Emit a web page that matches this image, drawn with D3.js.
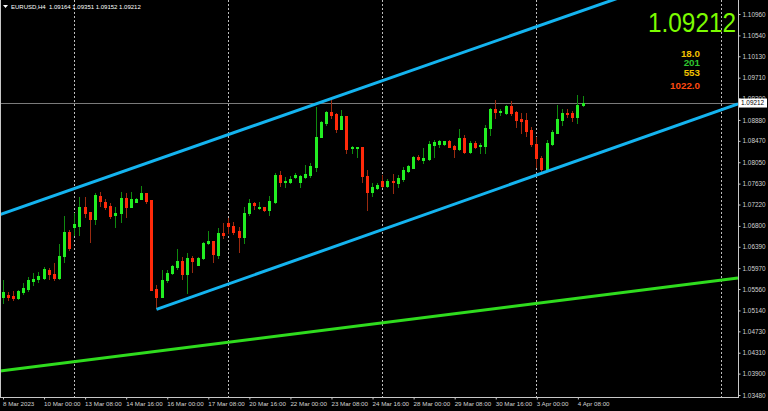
<!DOCTYPE html>
<html><head><meta charset="utf-8">
<script src="https://cdn.jsdelivr.net/npm/d3@7"></script>
<style>
html,body{margin:0;padding:0;background:#000;overflow:hidden}
svg{display:block}
text{font-family:"Liberation Sans",Arial,sans-serif}
</style></head>
<body>
<script>
// ---- data ----
const symbol = "EURUSD,H4";
const lastQuote = {open:1.09164, high:1.09351, low:1.09152, close:1.09212};
const open = [1.05404,1.05443,1.05423,1.05384,1.05502,1.05561,1.05718,1.05757,1.05777,1.05934,
1.05855,1.05777,1.06209,1.06680,1.06778,1.06798,1.07171,1.07073,1.06935,1.07387,
1.07269,1.07190,1.07014,1.07053,1.07347,1.07171,1.07269,1.07328,1.07446,1.07308,
1.05561,1.05404,1.05737,1.05875,1.05993,1.06111,1.05855,1.06170,1.06032,1.06170,
1.06464,1.06503,1.06228,1.06660,1.06857,1.06798,1.06700,1.06582,1.07053,1.07249,
1.07151,1.07171,1.07112,1.07269,1.07799,1.07662,1.07662,1.07760,1.07662,1.07760,
1.07799,1.07956,1.08545,1.08820,1.09036,1.08996,1.08702,1.08957,1.08329,1.08329,
1.08349,1.07779,1.07465,1.07544,1.07681,1.07583,1.07681,1.07642,1.07720,1.07877,
1.07936,1.08152,1.08093,1.08113,1.08388,1.08408,1.08408,1.08466,1.08368,1.08309,
1.08525,1.08250,1.08427,1.08368,1.08368,1.08722,1.09095,1.09036,1.09016,1.09154,
1.09036,1.08898,1.08879,1.08682,1.08408,1.08133,1.07917,1.08408,1.08623,1.08879,
1.09016,1.09016,1.08938,1.09164];
const high = [1.05737,1.05502,1.05521,1.05541,1.05678,1.05796,1.05875,1.05894,1.05993,1.05973,
1.06071,1.06444,1.06994,1.06719,1.07053,1.07367,1.07367,1.07073,1.07446,1.07465,
1.07328,1.07249,1.07171,1.07465,1.07446,1.07465,1.07347,1.07583,1.07446,1.07308,
1.05639,1.05934,1.05934,1.06032,1.06346,1.06189,1.06268,1.06209,1.06189,1.06484,
1.06700,1.06503,1.06759,1.06857,1.06955,1.06876,1.06778,1.07171,1.07328,1.07269,
1.07269,1.07171,1.07387,1.07838,1.07877,1.07760,1.07779,1.07838,1.07799,1.07995,
1.08035,1.09134,1.08859,1.09055,1.09271,1.09016,1.09075,1.08957,1.08368,1.08349,
1.08349,1.07897,1.07642,1.07642,1.07799,1.07720,1.07819,1.07799,1.07956,1.07995,
1.08172,1.08192,1.08329,1.08466,1.08486,1.08486,1.08466,1.08486,1.08388,1.08702,
1.08584,1.08466,1.08466,1.08427,1.08780,1.09114,1.09271,1.09095,1.09173,1.09252,
1.09055,1.09016,1.09016,1.08741,1.08545,1.08172,1.08486,1.08682,1.09173,1.09095,
1.09095,1.09055,1.09370,1.09351];
const low = [1.05286,1.05345,1.05345,1.05364,1.05463,1.05521,1.05639,1.05698,1.05757,1.05757,
1.05737,1.05757,1.06091,1.06326,1.06621,1.06621,1.06975,1.06484,1.06837,1.07190,
1.07132,1.06955,1.06778,1.06876,1.06975,1.07171,1.07269,1.07328,1.07249,1.05541,
1.05188,1.05404,1.05698,1.05855,1.05954,1.05757,1.05482,1.05894,1.06032,1.06150,
1.06444,1.06091,1.06170,1.06562,1.06660,1.06641,1.06287,1.06464,1.07014,1.07132,
1.07132,1.07092,1.07014,1.07249,1.07583,1.07563,1.07642,1.07740,1.07563,1.07740,
1.07760,1.07877,1.08545,1.08780,1.08918,1.08643,1.08702,1.08231,1.08231,1.08152,
1.07662,1.07112,1.07387,1.07524,1.07563,1.07563,1.07446,1.07563,1.07681,1.07858,
1.07936,1.08093,1.08035,1.08093,1.08152,1.08349,1.08388,1.08349,1.08152,1.08290,
1.08231,1.08231,1.08329,1.08231,1.08231,1.08584,1.08918,1.08977,1.08996,1.08977,
1.08741,1.08623,1.08565,1.08368,1.07956,1.07877,1.07897,1.08388,1.08623,1.08780,
1.08938,1.08859,1.08820,1.09152];
const close = [1.05502,1.05404,1.05384,1.05521,1.05580,1.05737,1.05757,1.05816,1.05954,1.05855,
1.05777,1.06209,1.06680,1.06366,1.06837,1.07171,1.07053,1.06935,1.07406,1.07289,
1.07171,1.06994,1.07053,1.07347,1.07171,1.07328,1.07328,1.07446,1.07289,1.05541,
1.05404,1.05737,1.05875,1.06012,1.06111,1.05855,1.06170,1.06111,1.06170,1.06464,
1.06503,1.06248,1.06660,1.06621,1.06798,1.06680,1.06582,1.07053,1.07249,1.07210,
1.07171,1.07112,1.07289,1.07799,1.07662,1.07681,1.07720,1.07799,1.07779,1.07819,
1.07976,1.08545,1.08839,1.09036,1.08977,1.08702,1.08957,1.08309,1.08349,1.08349,
1.07779,1.07465,1.07563,1.07603,1.07583,1.07681,1.07662,1.07740,1.07897,1.07976,
1.08152,1.08113,1.08133,1.08408,1.08447,1.08466,1.08466,1.08349,1.08309,1.08525,
1.08250,1.08427,1.08349,1.08388,1.08722,1.09095,1.09036,1.09055,1.09154,1.09016,
1.08879,1.08859,1.08663,1.08408,1.08133,1.07917,1.08427,1.08643,1.08898,1.09016,
1.08996,1.08938,1.09173,1.09212];

const yTickValues = [1.10960,1.10540,1.10130,1.09710,1.09300,1.08880,1.08470,1.08050,1.07630,1.07220,
  1.06800,1.06390,1.05970,1.05560,1.05140,1.04730,1.04310,1.03900,1.03480];
const xTickIndex = [0,8,16,24,32,40,48,56,64,72,80,88,96,104,112];
const xTickLabels = ["8 Mar 2023","10 Mar 00:00","13 Mar 08:00","14 Mar 16:00","16 Mar 00:00","17 Mar 08:00",
  "20 Mar 16:00","22 Mar 00:00","23 Mar 08:00","24 Mar 16:00","28 Mar 00:00","29 Mar 08:00",
  "30 Mar 16:00","3 Apr 00:00","4 Apr 08:00"];
const weekSeparators = [14,44,74,104,140];
// trend lines: [barIndex, price]
const upperChannel = [[0,1.07041],[110,1.10921]];
const lowerChannel = [[30,1.05160],[110,1.08009]];
const supportLine  = [[0,1.03956],[110,1.05354]];
const infoValues = ["18.0","201","553","1022.0"];
const infoColors = ["#f2c200","#2fc62f","#f2c200","#ff4a10"];

// ---- layout ----
const W=768,H=411, plotR=738, plotB=397;
const x = d3.scaleLinear().domain([0,113]).range([2.5,582.5]);
const y = d3.scaleLinear().domain([1.03480,1.10960]).range([395,14]);

const svg = d3.select("body").append("svg").attr("width",W).attr("height",H);
svg.append("rect").attr("width",W).attr("height",H).attr("fill","#000");
svg.append("defs").append("clipPath").attr("id","plot")
  .append("rect").attr("x",0).attr("y",0).attr("width",plotR).attr("height",plotB);

const plot = svg.append("g").attr("clip-path","url(#plot)");

// week separators
plot.selectAll("line.sep").data(weekSeparators).join("line")
  .attr("x1",d=>Math.round(x(d))+0.5).attr("x2",d=>Math.round(x(d))+0.5)
  .attr("y1",0).attr("y2",plotB)
  .attr("stroke","#bdbdbd").attr("stroke-width",1).attr("stroke-dasharray","2,2");

// current price line
plot.append("line").attr("x1",0).attr("x2",plotR)
  .attr("y1",Math.round(y(lastQuote.close))+0.5).attr("y2",Math.round(y(lastQuote.close))+0.5)
  .attr("stroke","#7a7a7a").attr("stroke-width",1);

// candles
const bars = d3.range(open.length).map(i=>({i,o:open[i],h:high[i],l:low[i],c:close[i]}));
const g = plot.append("g");
bars.forEach(b=>{
  const cx = Math.round(x(b.i));
  const up = b.c>=b.o;
  const wick = up? "#0f8a0f" : "#9a2a10";
  const body = up? "#22ee22" : "#ff2a0a";
  g.append("line").attr("x1",cx+0.5).attr("x2",cx+0.5)
    .attr("y1",Math.round(y(b.h))).attr("y2",Math.round(y(b.l))+1)
    .attr("stroke",wick).attr("stroke-width",1);
  const yt = Math.round(y(Math.max(b.o,b.c))), yb = Math.round(y(Math.min(b.o,b.c)));
  g.append("rect").attr("x",cx-1).attr("width",3)
    .attr("y",yt).attr("height",Math.max(1,yb-yt+1)).attr("fill",body);
});

// trend lines
function extend(pts, fromStart){
  const [[i0,p0],[i1,p1]] = pts;
  const s = (p1-p0)/(i1-i0);
  const a = fromStart ? i0 : x.invert(0);
  const b = x.invert(plotR);
  return [[x(a), y(p0+s*(a-i0))],[x(b), y(p0+s*(b-i0))]];
}
function drawLine(pts, fromStart, color){
  const e = extend(pts, fromStart);
  plot.append("line").attr("x1",e[0][0]).attr("y1",e[0][1]).attr("x2",e[1][0]).attr("y2",e[1][1])
    .attr("stroke",color).attr("stroke-width",3);
}
drawLine(upperChannel,false,"#14b4f0");
drawLine(lowerChannel,true,"#14b4f0");
drawLine(supportLine,false,"#2fdc1e");

// frame
svg.append("line").attr("x1",0.5).attr("x2",0.5).attr("y1",0).attr("y2",plotB).attr("stroke","#c8c8c8");
svg.append("line").attr("x1",plotR+0.5).attr("x2",plotR+0.5).attr("y1",0).attr("y2",plotB+1).attr("stroke","#c8c8c8");
svg.append("line").attr("x1",0).attr("x2",plotR+1).attr("y1",plotB+0.5).attr("y2",plotB+0.5).attr("stroke","#c8c8c8");

// y axis
const ya = svg.append("g").attr("transform",`translate(${plotR+0.5},0)`)
  .call(d3.axisRight(y).tickValues(yTickValues).tickSize(2).tickSizeOuter(0).tickPadding(2).tickFormat(d3.format(".5f")));
ya.select(".domain").remove();
ya.selectAll("line").attr("stroke","#c8c8c8");
ya.selectAll("text").attr("fill","#d2d2d2").style("font-size","6.4px").style("font-family","'Liberation Sans',Arial,sans-serif");

// x axis
const xa = svg.append("g").attr("transform",`translate(0,${plotB+0.5})`)
  .call(d3.axisBottom(x).tickValues(xTickIndex).tickSize(2).tickSizeOuter(0).tickFormat((d,i)=>xTickLabels[i]));
xa.select(".domain").remove();
xa.selectAll("line").attr("stroke","#c8c8c8").attr("transform","translate(0.5,0)");
xa.selectAll("text").attr("fill","#d2d2d2").attr("text-anchor","start").attr("dx","0").attr("y",4).attr("dy","0.71em")
  .style("font-size","6.2px").style("font-family","'Liberation Sans',Arial,sans-serif");

// current price tag
const py = y(lastQuote.close);
svg.append("rect").attr("x",plotR+1).attr("y",py-4.5).attr("width",W-plotR-2).attr("height",9).attr("fill","#fff");
svg.append("text").attr("x",plotR+3).attr("y",py+2.3).text(d3.format(".5f")(lastQuote.close))
  .attr("fill","#000").style("font-size","6.4px");

// header
svg.append("path").attr("d","M3,5 L8,5 L5.5,8 Z").attr("fill","#fff");
svg.append("text").attr("x",11).attr("y",9).attr("fill","#fff").style("font-size","6px")
  .style("white-space","pre")
  .text(`${symbol}  ${lastQuote.open.toFixed(5)} ${lastQuote.high.toFixed(5)} ${lastQuote.low.toFixed(5)} ${lastQuote.close.toFixed(5)}`);

// big price
svg.append("text").attr("x",736).attr("y",32).attr("text-anchor","end")
  .attr("textLength",88).attr("lengthAdjust","spacingAndGlyphs")
  .attr("fill","#7cfc00").style("font-size","27px").text(lastQuote.close.toFixed(5));

// info numbers
const infoY = [56.5,65.5,75.5,89];
svg.selectAll("text.info").data(infoValues).join("text")
  .attr("x",700).attr("y",(d,i)=>infoY[i]).attr("text-anchor","end")
  .attr("fill",(d,i)=>infoColors[i]).style("font-size","9.8px").style("font-weight","bold").text(d=>d);
</script>
</body></html>
